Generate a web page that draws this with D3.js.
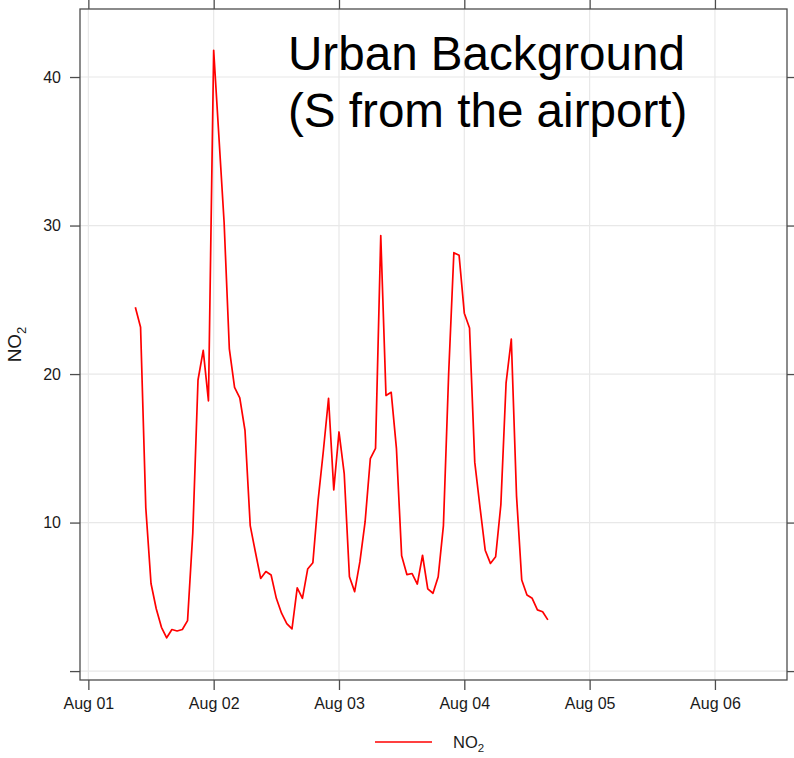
<!DOCTYPE html>
<html>
<head>
<meta charset="utf-8">
<script src="https://cdn.jsdelivr.net/npm/d3@7/dist/d3.min.js"></script>
<style>
  html, body { margin: 0; padding: 0; background: #fff; }
  svg { display: block; font-family: "Liberation Sans", Arial, Helvetica, sans-serif; }
</style>
</head>
<body>
<svg id="chart" width="794" height="758"></svg>
<script>
// ---- data ----
const times = [
  "2023-08-01 09:00","2023-08-01 10:00","2023-08-01 11:00","2023-08-01 12:00","2023-08-01 13:00",
  "2023-08-01 14:00","2023-08-01 15:00","2023-08-01 16:00","2023-08-01 17:00","2023-08-01 18:00",
  "2023-08-01 19:00","2023-08-01 20:00","2023-08-01 21:00","2023-08-01 22:00","2023-08-01 23:00",
  "2023-08-02 00:00","2023-08-02 01:00","2023-08-02 02:00","2023-08-02 03:00","2023-08-02 04:00",
  "2023-08-02 05:00","2023-08-02 06:00","2023-08-02 07:00","2023-08-02 08:00","2023-08-02 09:00",
  "2023-08-02 10:00","2023-08-02 11:00","2023-08-02 12:00","2023-08-02 13:00","2023-08-02 14:00",
  "2023-08-02 15:00","2023-08-02 16:00","2023-08-02 17:00","2023-08-02 18:00","2023-08-02 19:00",
  "2023-08-02 20:00","2023-08-02 21:00","2023-08-02 22:00","2023-08-02 23:00",
  "2023-08-03 00:00","2023-08-03 01:00","2023-08-03 02:00","2023-08-03 03:00","2023-08-03 04:00",
  "2023-08-03 05:00","2023-08-03 06:00","2023-08-03 07:00","2023-08-03 08:00","2023-08-03 09:00",
  "2023-08-03 10:00","2023-08-03 11:00","2023-08-03 12:00","2023-08-03 13:00","2023-08-03 14:00",
  "2023-08-03 15:00","2023-08-03 16:00","2023-08-03 17:00","2023-08-03 18:00","2023-08-03 19:00",
  "2023-08-03 20:00","2023-08-03 21:00","2023-08-03 22:00","2023-08-03 23:00",
  "2023-08-04 00:00","2023-08-04 01:00","2023-08-04 02:00","2023-08-04 03:00","2023-08-04 04:00",
  "2023-08-04 05:00","2023-08-04 06:00","2023-08-04 07:00","2023-08-04 08:00","2023-08-04 09:00",
  "2023-08-04 10:00","2023-08-04 11:00","2023-08-04 12:00","2023-08-04 13:00","2023-08-04 14:00",
  "2023-08-04 15:00","2023-08-04 16:00"
];
const no2 = [
  24.5, 23.15, 11.0, 5.9, 4.2, 2.95, 2.24, 2.8, 2.7, 2.8, 3.4, 9.3, 19.6, 21.6, 18.2,
  41.8, 36.0, 30.2, 21.7, 19.1, 18.4, 16.2, 9.8, 8.0, 6.24, 6.7, 6.47, 4.9, 3.9, 3.2, 2.84, 5.6, 4.9, 6.87, 7.3, 11.5, 14.8, 18.37, 12.2,
  16.1, 13.3, 6.35, 5.35, 7.35, 10.04, 14.3, 15.0, 29.33, 18.55, 18.77, 15.0, 7.76, 6.5, 6.57, 5.86, 7.8, 5.53, 5.24, 6.35, 9.8, 20.0, 28.17, 28.0,
  24.1, 23.1, 14.07, 11.05, 8.14, 7.25, 7.7, 11.2, 19.4, 22.35, 11.8, 6.13, 5.12, 4.9, 4.12, 4.0, 3.45
];
const xTicks = ["2023-08-01 00:00","2023-08-02 00:00","2023-08-03 00:00","2023-08-04 00:00","2023-08-05 00:00","2023-08-06 00:00"];
const xTickLabels = ["Aug 01","Aug 02","Aug 03","Aug 04","Aug 05","Aug 06"];
const xDomain = ["2023-07-31 22:24","2023-08-06 13:48"];
const yTicks = [0, 10, 20, 30, 40];
const yTickLabels = ["", "10", "20", "30", "40"];
const yDomain = [-0.6, 44.58];
const titleLines = ["Urban Background", "(S from the airport)"];
const seriesName = "NO";
const seriesSub = "2";

(function () {
// ---- layout ----
const parse = d3.utcParse("%Y-%m-%d %H:%M");
const pL = 80, pR = 787, pT = 9, pB = 680;
const frameColor = "#4d4d4d";
const svg = d3.select("#chart");

const x = d3.scaleUtc().domain(xDomain.map(parse)).range([pL, pR]);
const y = d3.scaleLinear().domain(yDomain).range([pB, pT]);

const data = times.map((t, i) => ({ t: parse(t), v: no2[i] }));
const xt = xTicks.map(parse);

// grid
const grid = svg.append("g");
grid.selectAll("line.gx").data(xt).join("line").attr("class", "gx")
  .attr("x1", d => x(d)).attr("x2", d => x(d))
  .attr("y1", pT).attr("y2", pB)
  .attr("stroke", "#e8e8e8").attr("stroke-width", 1.2);
grid.selectAll("line.gy").data(yTicks).join("line").attr("class", "gy")
  .attr("x1", pL).attr("x2", pR)
  .attr("y1", d => y(d)).attr("y2", d => y(d))
  .attr("stroke", "#e8e8e8").attr("stroke-width", 1.2);

// axes
const axB = svg.append("g").attr("transform", `translate(0,${pB})`)
  .call(d3.axisBottom(x).tickValues(xt).tickSize(10).tickPadding(8)
    .tickFormat((d, i) => xTickLabels[i]));
const axT = svg.append("g").attr("transform", `translate(0,${pT})`)
  .call(d3.axisTop(x).tickValues(xt).tickSize(10).tickFormat(""));
const axL = svg.append("g").attr("transform", `translate(${pL},0)`)
  .call(d3.axisLeft(y).tickValues(yTicks).tickSize(10).tickPadding(9)
    .tickFormat((d, i) => yTickLabels[i]));
const axR = svg.append("g").attr("transform", `translate(${pR},0)`)
  .call(d3.axisRight(y).tickValues(yTicks).tickSize(10).tickFormat(""));
[axB, axT, axL, axR].forEach(g => {
  g.select(".domain").remove();
  g.selectAll(".tick line").attr("stroke", frameColor).attr("stroke-width", 1.3);
  g.selectAll(".tick text").attr("fill", "#1a1a1a").style("font-size", "16px")
    .style("font-family", '"Liberation Sans", Arial, sans-serif');
});

// frame
svg.append("rect").attr("x", pL).attr("y", pT)
  .attr("width", pR - pL).attr("height", pB - pT)
  .attr("fill", "none").attr("stroke", frameColor).attr("stroke-width", 1.3);

// line
const line = d3.line().x(d => x(d.t)).y(d => y(d.v));
svg.append("path").datum(data).attr("d", line)
  .attr("fill", "none").attr("stroke", "#ff0000").attr("stroke-width", 1.7)
  .attr("stroke-linejoin", "round");

// title
const title = svg.append("text").attr("x", 288).attr("y", 70)
  .attr("fill", "#000").style("font-size", "47.6px");
titleLines.forEach((s, i) => {
  title.append("tspan").attr("x", 288).attr("dy", i === 0 ? 0 : 57).text(s);
});

// y label
const yl = svg.append("text")
  .attr("transform", `translate(21,${(pT + pB) / 2}) rotate(-90)`)
  .attr("text-anchor", "middle").attr("fill", "#1a1a1a").style("font-size", "19px");
yl.append("tspan").text(seriesName);
yl.append("tspan").attr("dy", 5).style("font-size", "13px").text(seriesSub);

// legend
svg.append("line").attr("x1", 375).attr("x2", 432).attr("y1", 742).attr("y2", 742)
  .attr("stroke", "#ff0000").attr("stroke-width", 1.7);
const lt = svg.append("text").attr("x", 453).attr("y", 748)
  .attr("fill", "#1a1a1a").style("font-size", "16.5px");
lt.append("tspan").text(seriesName);
lt.append("tspan").attr("dy", 4).style("font-size", "11.5px").text(seriesSub);
})();
</script>
</body>
</html>
